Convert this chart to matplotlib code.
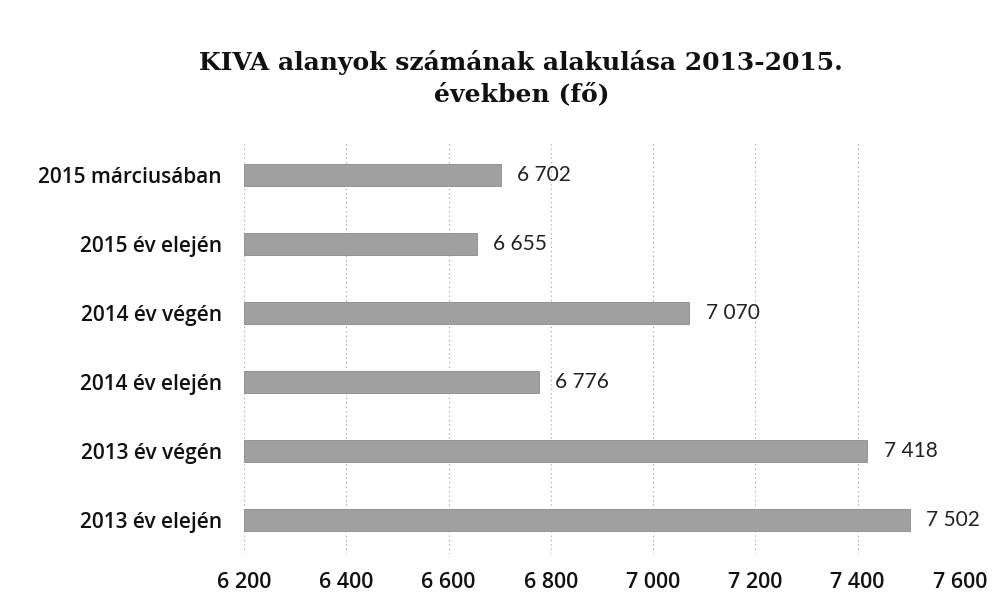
import matplotlib.pyplot as plt
from matplotlib.ticker import FuncFormatter
from matplotlib.transforms import ScaledTranslation

categories = ["2013 év elején", "2013 év végén", "2014 év elején",
              "2014 év végén", "2015 év elején", "2015 márciusában"]
values = [7502, 7418, 6776, 7070, 6655, 6702]
xticks = [6200, 6400, 6600, 6800, 7000, 7200, 7400, 7600]


def fmt(v):
    return f"{int(v):,}".replace(",", " ")


fig = plt.figure(figsize=(9.93, 6.14), dpi=100)
ax = fig.add_axes([0.2457, 0.097, 0.721, 0.674])

ax.barh(range(len(categories)), [v - 6200 for v in values], left=6200,
        height=0.32, color="#a0a0a0", edgecolor="#8a8a8a", linewidth=0.6,
        zorder=3)

for i, v in enumerate(values):
    ax.annotate(fmt(v), (v, i), xytext=(12, 0), textcoords="offset points",
                va="center", ha="left", fontsize=15, family="Lato", color="#222222")

ax.set_xlim(6200, 7600)
ax.set_ylim(-0.5, len(categories) - 0.5)
ax.set_xticks(xticks)
ax.xaxis.set_major_formatter(FuncFormatter(lambda v, p: fmt(v)))
ax.set_yticks(range(len(categories)))
ax.set_yticklabels(categories)

shift = ScaledTranslation(-10 / 100, 0, fig.dpi_scale_trans)
for lbl in ax.get_xticklabels():
    lbl.set_fontsize(15.5)
    lbl.set_transform(lbl.get_transform() + shift)
for lbl in ax.get_yticklabels():
    lbl.set_fontsize(15)
for lbl in ax.get_xticklabels() + ax.get_yticklabels():
    lbl.set_fontfamily("Open Sans")
    lbl.set_fontweight("semibold")
    lbl.set_color("#111111")

ax.tick_params(axis="x", length=0, pad=13)
ax.tick_params(axis="y", length=0, pad=16)
ax.grid(axis="x", color="#9a9a9a", linestyle=(0, (1, 3)), linewidth=0.8, zorder=0)
for s in ax.spines.values():
    s.set_visible(False)

fig.text(0.525, 0.873, "KIVA alanyok számának alakulása 2013-2015.\névekben (fő)",
         ha="center", va="center", fontsize=18, fontweight="bold",
         family="DejaVu Serif", color="#111111", linespacing=1.4)

fig.savefig("out.png", dpi=100)
